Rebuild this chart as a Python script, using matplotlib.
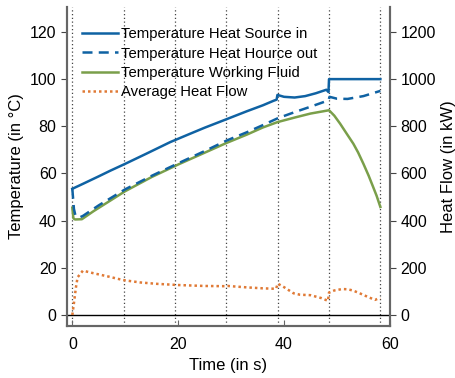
import matplotlib
matplotlib.use("Agg")
import matplotlib.pyplot as plt
import numpy as np

plt.rcParams['font.family'] = ['Liberation Sans', 'DejaVu Sans']

# Temperature heat source in (°C)
t_src_in = [0, 2, 5, 7.2, 10, 14, 18.5, 22, 25, 28.9, 33, 36, 38.0, 38.6, 38.75, 40, 42, 44, 46, 48, 48.4, 48.5, 58.2]
T_src_in = [53.5, 55.6, 58.8, 61.2, 64.1, 68.4, 73.3, 76.6, 79.4, 82.8, 86.4, 88.9, 90.8, 91.3, 93.3, 92.5, 92.2, 92.8, 94, 95.5, 94.5, 100, 100]

# Temperature heat source out (°C)
t_src_out = [0, 0.3, 0.6, 1.5, 2, 5, 10, 15, 20, 25, 29.2, 33, 36, 38.8, 42, 45, 48.4, 48.6, 50, 52, 55, 58.2]
T_src_out = [53.5, 45, 42, 41.5, 42, 46.5, 53.3, 59, 64.3, 69.5, 74, 77.5, 80.5, 83.4, 86, 88.3, 91, 92.5, 91.7, 91.6, 92.8, 95]

# Temperature working fluid (°C)
t_wf = [0, 0.2, 0.5, 1.8, 4, 10, 15, 20, 25, 29.2, 33, 36, 38.8, 42, 45, 48.5,
        49.5, 50.6, 51.8, 53.1, 54, 55, 56, 56.85, 57.5, 58.2]
T_wf = [45.5, 41, 40.5, 40.6, 44, 52.5, 58.5, 63.8, 68.8, 73, 76.5, 79.5, 81.8, 83.7, 85.4, 86.8,
        84.5, 81.1, 77, 72.6, 68.9, 64.1, 59, 54.2, 50.5, 45.8]

# Average heat flow (kW)
t_q = [0, 0.3, 0.7, 1, 2, 4, 7, 9.6, 12.8, 16, 20, 25, 29, 29.4, 33, 36, 38.5, 38.8, 40, 41.8, 43, 45, 47, 48.3, 48.5, 49.5, 51, 52, 53, 54.3, 56, 57.2, 57.6, 58.2]
Q = [0, 50, 120, 160, 188, 177, 162, 148, 138, 132, 127, 123, 122, 123, 117, 113, 111, 133, 118, 92, 86, 84, 72, 60, 95, 104, 110, 109, 104, 92, 75, 64, 68, 70]

# Event markers (s)
events = [0, 9.7, 19.4, 29.1, 38.8, 48.5, 58.2]

blue = '#0f62a3'
green = '#7a9f4a'
orange = '#e07a36'

fig = plt.figure(figsize=(4.56, 3.78), dpi=100)
ax = fig.add_axes([0.147, 0.138, 0.708, 0.843])
ax2 = ax.twinx()

for e in events:
    ax.axvline(e, color='#444444', ls=(0, (1, 2)), lw=0.9, zorder=1)
ax.axhline(0, color='black', lw=1.0, zorder=1)

l1, = ax.plot(t_src_in, T_src_in, color=blue, lw=1.8, label='Temperature Heat Source in', zorder=3)
l2, = ax.plot(t_src_out, T_src_out, color=blue, lw=1.8, ls=(0, (4, 2.5)), label='Temperature Heat Hource out', zorder=3)
l3, = ax.plot(t_wf, T_wf, color=green, lw=1.8, label='Temperature Working Fluid', zorder=2)
l4, = ax2.plot(t_q, Q, color=orange, lw=1.8, ls=(0, (1, 1.2)), label='Average Heat Flow')

ax.set_xlim(-1, 60)
ax.set_ylim(-4.6, 130.5)
ax2.set_ylim(-46, 1305)
ax.set_xticks([0, 20, 40, 60])
ax.set_yticks([0, 20, 40, 60, 80, 100, 120])
ax2.set_yticks([0, 200, 400, 600, 800, 1000, 1200])

ax.set_xlabel('Time (in s)', fontsize=12)
ax.set_ylabel('Temperature (in °C)', fontsize=12)
ax2.set_ylabel('Heat Flow (in kW)', fontsize=12)

for a in (ax, ax2):
    a.spines['top'].set_visible(False)
    for s in ('left', 'right', 'bottom'):
        a.spines[s].set_color('#666666')
        a.spines[s].set_linewidth(1.5)
ax.tick_params(axis='x', direction='in', length=4, labelsize=11.5, color='#666666', pad=8)
ax.tick_params(axis='y', direction='out', length=4, labelsize=11.5, color='#444444')
ax2.tick_params(axis='y', direction='out', length=4, labelsize=11.5, color='#444444')

leg = ax.legend(handles=[l1, l2, l3, l4], loc='upper left', bbox_to_anchor=(0.0, 0.983),
                frameon=False, fontsize=10.7, handlelength=2.4, handletextpad=0.25,
                labelspacing=0.35, borderaxespad=0.6)
leg.set_zorder(10)

fig.savefig('out.png', dpi=100)
